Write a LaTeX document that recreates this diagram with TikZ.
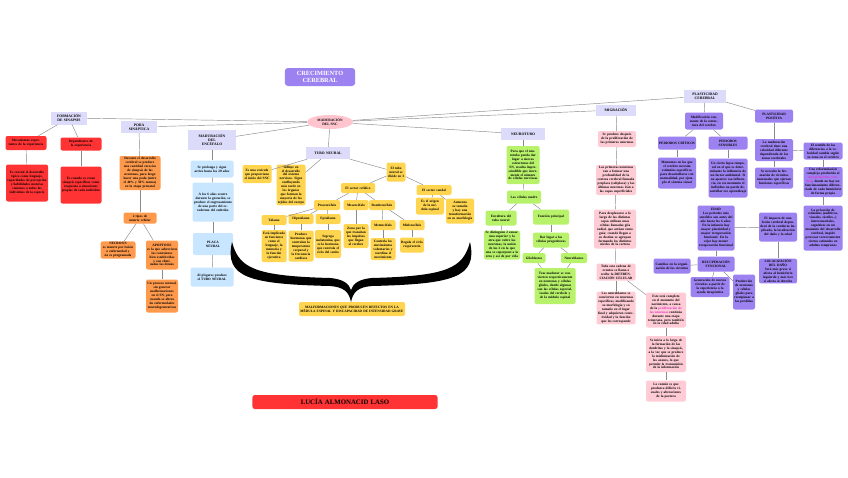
\documentclass[tikz,border=0pt]{standalone}
\usepackage{fontspec}
\setmainfont{Liberation Serif}
\usetikzlibrary{shapes.geometric}
\definecolor{cR}{HTML}{FF3333}
\definecolor{cO}{HTML}{FF9A4D}
\definecolor{cB}{HTML}{C8E6FF}
\definecolor{cY}{HTML}{FFD54F}
\definecolor{cG}{HTML}{B8F26A}
\definecolor{cP}{HTML}{FFCCD5}
\definecolor{cV}{HTML}{9C82F0}
\definecolor{cH}{HTML}{DCDCFA}
\definecolor{cE}{HTML}{FFC4CE}
\definecolor{cMag}{HTML}{E030C8}
\definecolor{cLn}{HTML}{8A8A8A}
\newcommand\mg[1]{\textcolor{cMag}{#1}}
\tikzset{
  base/.style={rounded corners=2pt, align=center, inner sep=1.1pt, font=\fontsize{3.4}{3.95}\selectfont\bfseries},
  rbox/.style={base, fill=cR},
  obox/.style={base, fill=cO},
  bbox/.style={base, fill=cB},
  ybox/.style={base, fill=cY},
  gbox/.style={base, fill=cG},
  pbox/.style={base, fill=cP},
  vbox/.style={base, fill=cV},
  headbox/.style={base, fill=cH, rounded corners=0pt, font=\fontsize{3.7}{4.4}\selectfont\bfseries},
  ln/.style={draw=cLn, line width=0.45pt}
}
\begin{document}
\begin{tikzpicture}[x=1pt,y=-1pt]
\useasboundingbox (0,0) rectangle (848,477);
\fill[white] (0,0) rectangle (848,477);

% title and centre
\node[base, fill=cV, rounded corners=3pt, text width=68, minimum height=18, font=\fontsize{6.3}{7.3}\selectfont\bfseries, text=white] (title) at (320,77) {CRECIMIENTO CEREBRAL};
\node[ellipse, fill=cE, minimum width=46, minimum height=14, inner sep=0pt, align=center, font=\fontsize{3.5}{4.1}\selectfont\bfseries] (mad) at (330,122) {MADURACIÓN\\DEL SNC};

% heads
\node[headbox, text width=34, minimum height=13] (form) at (69,118) {FORMACIÓN\\DE SINAPSIS};
\node[headbox, text width=34, minimum height=12] (poda) at (139,127) {PODA\\SINÁPTICA};
\node[headbox, text width=45, minimum height=20] (mence) at (212,140) {MADURACIÓN\\DEL\\ENCÉFALO};
\node[headbox, text width=41, minimum height=12] (tubo) at (328,153) {TUBO NEURAL};
\node[headbox, text width=41, minimum height=12] (neuro) at (523,134) {NEUROTUBO};
\node[headbox, text width=38, minimum height=11] (migr) at (616,110) {MIGRACIÓN};
\node[headbox, text width=40, minimum height=13] (plast) at (705,96) {PLASTICIDAD\\CEREBRAL};

% red
\node[rbox, text width=38.8, minimum height=14] (r1) at (26,143) {Mecanismos expectantes de la experiencia};
\node[rbox, text width=38.8, minimum height=13] (r2) at (81,144) {Dependientes de la experiencia};
\node[rbox, text width=39.8, minimum height=37] (r3) at (27,183) {Es crucial el desarrollo típico como lenguaje, capacidades de percepción y habilidades motoras comunes a todos los individuos de la especie};
\node[rbox, text width=38.8, minimum height=37] (r4) at (81,185) {Es cuando se crean sinapsis específicas como respuesta a situaciones propias de cada individuo};

% orange
\node[obox, text width=38.8, minimum height=34] (o1) at (140,173) {Durante el desarrollo cerebral se produce una cantidad excesiva de sinapsis de las neuronas, para luego hacer una poda (entre el 40\% y 50\% menos) en la etapa prenatal};
\node[obox, text width=30.8, minimum height=11] (o2) at (140,218) {2 tipos de muerte celular};
\node[obox, text width=32.8, minimum height=17] (o3) at (118,250) {NECROSIS\\es muerte por lesión o enfermedad y no es programada};
\node[obox, text width=29.8, minimum height=29] (o4) at (162,255) {APOPTOSIS\\es la que sobreviven las conexiones bien establecidas y son eliminadas las demás};
\node[obox, text width=29.8, minimum height=33] (o5) at (162,296) {Un proceso normal, sin generar malformaciones en el SN, pero cuando se altera da enfermedades neurodegenerativas};

% blue
\node[bbox, text width=40.8, minimum height=17] (b1) at (212,169) {Se prolonga y sigue activo hasta los 20 años};
\node[bbox, text width=38.8, minimum height=39] (b2) at (213,202) {A los 6 años ocurre durante la gestación, se produce el engrosamiento de una parte del ectodermo del embrión};
\node[bbox, text width=37.8, minimum height=22] (b3) at (213,244) {PLACA\\NEURAL};
\node[bbox, text width=40.8, minimum height=19] (b4) at (212,277) {Al plegarse produce el TUBO NEURAL};

% yellow
\node[ybox, text width=26.8, minimum height=18] (y1) at (257,174) {Es una vesícula que proporciona el inicio del SNC};
\node[ybox, text width=26.8, minimum height=40] (y2) at (291,185) {Influye en el desarrollo del sistema nervioso. Sigue confluyendo más tarde en los órganos que forman la mayoría de los tejidos del cuerpo};
\node[ybox, text width=16.8, minimum height=19] (y3) at (396,172) {El tubo neural se divide en 3};
\node[ybox, text width=31.8, minimum height=10] (y4) at (358,188) {El sector cefálico};
\node[ybox, text width=32.8, minimum height=10] (y5) at (434,190) {El sector caudal};
\node[ybox, text width=23.8, minimum height=10] (y6) at (327,205) {Prosencéfalo};
\node[ybox, text width=22.8, minimum height=10] (y7) at (356,205) {Mesencéfalo};
\node[ybox, text width=23.8, minimum height=10] (y8) at (382,205) {Rombencéfalo};
\node[ybox, text width=22.8, minimum height=10] (y9) at (274,220) {Tálamo};
\node[ybox, text width=22.8, minimum height=10] (y10) at (301,219) {Hipotálamo};
\node[ybox, text width=22.8, minimum height=10] (y11) at (328,219) {Epitálamo};
\node[ybox, text width=22.8, minimum height=32] (y12) at (274,246) {Está implicado en funciones como el lenguaje, la memoria y la función ejecutiva};
\node[ybox, text width=22.8, minimum height=31] (y13) at (301,246) {Produce hormonas que controlan la temperatura corporal y la frecuencia cardíaca};
\node[ybox, text width=23.8, minimum height=28] (y14) at (328,244) {Segrega melatonina, que es la hormona que controla el ciclo del sueño};
\node[ybox, text width=22.8, minimum height=24] (y15) at (356,236) {Zona por la que transitan los impulsos que llegan al cerebro};
\node[ybox, text width=22.8, minimum height=10] (y16) at (383,225) {Metencéfalo};
\node[ybox, text width=22.8, minimum height=10] (y17) at (412,225) {Mielencéfalo};
\node[ybox, text width=22.8, minimum height=22] (y18) at (383,249) {Controla los movimientos voluntarios y coordina el movimiento};
\node[ybox, text width=21.8, minimum height=15] (y19) at (412,245) {Regula el ciclo respiratorio};
\node[ybox, text width=25.8, minimum height=17] (y20) at (430,206) {Es el origen de la médula espinal};
\node[ybox, text width=25.8, minimum height=25] (y21) at (460,211) {Aumenta su tamaño y hay una transformación en su morfología};
\node[ybox, text width=103.8, minimum height=14] (y22) at (352,309) {MALFORMACIONES QUE PRODUCEN DEFECTOS EN LA MÉDULA ESPINAL Y DISCAPACIDAD DE INTENSIDAD GRAVE};

% brace
\fill[black] (232,242) .. controls (224,278) and (250,284) .. (330,286)
  .. controls (344,287) and (349,292) .. (351,302)
  .. controls (353,292) and (358,287) .. (372,286)
  .. controls (452,284) and (478,278) .. (470,242)
  .. controls (463,268) and (448,276) .. (372,278)
  .. controls (360,279) and (353,283) .. (351,290)
  .. controls (349,283) and (342,279) .. (330,278)
  .. controls (254,276) and (239,268) .. (232,242) -- cycle;

% green
\node[gbox, text width=30.8, minimum height=38] (g1) at (523,165) {Para que el neurotubo pueda dar lugar a nuevas estructuras del SN, resulta imprescindible que incremente el número de células nerviosas};
\node[gbox, text width=31.8, minimum height=13] (g2) at (524,197) {Las células madre};
\node[gbox, text width=28.8, minimum height=15] (g3) at (501,218) {Envoltura del tubo neural};
\node[gbox, text width=33.8, minimum height=15] (g4) at (551,217) {Función principal};
\node[gbox, text width=33.8, minimum height=27] (g5) at (502,245) {Se distinguen 2 zonas: una superior y la otra que cubre las neuronas, la unión de las 2 en la que una se superpone a la otra y así de por vida};
\node[gbox, text width=33.8, minimum height=15] (g6) at (551,240) {Dar lugar a las células progenitoras};
\node[gbox, text width=20.8, minimum height=10] (g7) at (534,258) {Glioblastos};
\node[gbox, text width=23.8, minimum height=10] (g8) at (574,258) {Neuroblastos};
\node[gbox, text width=38.8, minimum height=36] (g9) at (555,286) {Tras madurar se convierten respectivamente en neuronas y células gliales, donde algunas son las células especializadas del cerebelo y de la médula espinal};

% pink
\node[pbox, text width=35.8, minimum height=16] (p1) at (617,139) {Se produce después de la proliferación de las primeras neuronas};
\node[pbox, text width=37.8, minimum height=30] (p2) at (616,180) {Las primeras neuronas van a formar una profundidad de la corteza cerebral llamada preplaca (subplaca) y las últimas neuronas irán a las capas superficiales};
\node[pbox, text width=39.8, minimum height=39] (p3) at (615,229) {Para desplazarse a lo largo de las distintas capas utilizan unas células llamadas glía radial, que actúan como guía; cuando llegan a su destino se agrupan formando los distintos niveles de la corteza};
\node[pbox, text width=36.8, minimum height=17] (p4) at (616,272) {Toda esta cadena de eventos se llama o recibe la DIFERENCIACIÓN CELULAR};
\node[pbox, text width=36.8, minimum height=31] (p5) at (616,308) {Los neuroblastos se convierten en neuronas específicas, modificando su morfología y su tamaño en el lugar final y adquieren conectividad y la función que les corresponde};
\node[pbox, text width=37.8, minimum height=35] (p6) at (666,310) {Este está completo en el momento del nacimiento, a causa de la \mg{proliferación de las neuronas} continúa durante una etapa temprana, pero también en la edad adulta};
\node[pbox, text width=37.8, minimum height=36] (p7) at (666,354) {Se inicia a lo largo de la formación de las dendritas y la sinapsis, a la vez que se produce la mielinización de los axones, lo que permite la transmisión de la información};
\node[pbox, text width=37.8, minimum height=21] (p8) at (666,391) {Lo común es que produzca déficits visuales y alteraciones de la postura};

% purple
\node[vbox, text width=35.8, minimum height=17] (v1) at (704,121) {Modificación constante de la estructura del cerebro};
\node[vbox, text width=35.8, minimum height=13] (v2) at (774,116) {PLASTICIDAD POSITIVA};
\node[vbox, text width=35.8, minimum height=13] (v3) at (677,143) {PERIODOS CRÍTICOS};
\node[vbox, text width=36.8, minimum height=13] (v4) at (728,143) {PERIODOS SENSIBLES};
\node[vbox, text width=35.8, minimum height=31] (v5) at (677,173) {Momentos en los que el cerebro necesita estímulos específicos para desarrollarse con normalidad, por ejemplo el sistema visual};
\node[vbox, text width=36.8, minimum height=39] (v6) at (728,178) {Un cierto lapso temporal en el que es determinante la influencia de un factor ambiental. Si no aparece esa influencia, en ese momento el individuo no puede desarrollar ese aprendizaje};
\node[vbox, text width=35.8, minimum height=22] (v7) at (774,150) {La maduración cerebral tiene una velocidad diferente dependiendo de las zonas cerebrales};
\node[vbox, text width=36.8, minimum height=17] (v8) at (823,151) {El sentido de las diferencias a la velocidad cambia según su zona en el cerebro};
\node[vbox, text width=35.8, minimum height=21] (v9) at (774,178) {Se necesita la formación de circuitos neuronales que ejerzan funciones específicas};
\node[vbox, text width=36.8, minimum height=30] (v10) at (823,182) {Una reformulación compleja producida al \mg{envejecimiento cerebral}, donde no hay un funcionamiento diferenciado de cada hemisferio de forma propia};
\node[vbox, text width=36.8, minimum height=45] (v11) at (823,228) {La privación de estímulos (auditivos, visuales, táctiles...) intersensoriales, cognitivos en un momento del desarrollo cerebral, impide procesar correctamente ciertos estímulos en adultos tempranos};
\node[vbox, text width=34.8, minimum height=45] (v12) at (716,228) {EDAD\\Los periodos más sensibles son antes del año hasta los 6 años. En la infancia hay mayor plasticidad y mayor recuperación funcional. En la vejez hay menor recuperación funcional};
\node[vbox, text width=35.8, minimum height=29] (v13) at (778,227) {El impacto de una lesión cerebral dependerá de la conducta implicada, la localización del daño y la edad};
\node[vbox, text width=35.8, minimum height=24] (v14) at (778,271) {LOCALIZACIÓN DEL DAÑO\\Será más grave si afecta al hemisferio izquierdo y más leve si afecta al derecho};
\node[vbox, text width=34.8, minimum height=15] (v15) at (716,264) {RECUPERACIÓN FUNCIONAL};
\node[vbox, text width=34.8, minimum height=15] (v16) at (672,266) {Cambios en la organización de los circuitos};
\node[vbox, text width=36.8, minimum height=20] (v17) at (710,287) {Generación de nuevos circuitos a partir de la experiencia o la ayuda terapéutica};
\node[vbox, text width=19.8, minimum height=35] (v18) at (744,292) {Producción de neuronas y células gliales para reemplazar a las perdidas};

% author
\node[base, fill=cR, rounded corners=2.5pt, text width=183, minimum height=14, font=\fontsize{6.8}{7.8}\selectfont\bfseries] (author) at (345,402) {LUCÍA ALMONACID LASO};

% connectors
\foreach \t in {form,poda,mence,tubo,neuro,migr,plast} \draw[ln] (mad) -- (\t);
\draw[ln] (form) -- (r1); \draw[ln] (form) -- (r2);
\draw[ln] (r1) -- (r3); \draw[ln] (r2) -- (r4);
\draw[ln] (poda) -- (o1); \draw[ln] (o1) -- (o2);
\draw[ln] (o2) -- (o3); \draw[ln] (o2) -- (o4); \draw[ln] (o4) -- (o5);
\draw[ln] (mence) -- (b1); \draw[ln] (b1) -- (b2); \draw[ln] (b2) -- (b3); \draw[ln] (b3) -- (b4);
\draw[ln] (tubo) -- (y1); \draw[ln] (tubo) -- (y2); \draw[ln] (tubo) -- (y3);
\draw[ln] (y3) -- (y4); \draw[ln] (y3) -- (y5);
\draw[ln] (y4) -- (y6); \draw[ln] (y4) -- (y7); \draw[ln] (y4) -- (y8);
\draw[ln] (y6) -- (y9); \draw[ln] (y6) -- (y10); \draw[ln] (y6) -- (y11);
\draw[ln] (y9) -- (y12); \draw[ln] (y10) -- (y13); \draw[ln] (y11) -- (y14);
\draw[ln] (y7) -- (y15);
\draw[ln] (y8) -- (y16); \draw[ln] (y8) -- (y17);
\draw[ln] (y16) -- (y18); \draw[ln] (y17) -- (y19);
\draw[ln] (y5) -- (y20); \draw[ln] (y5) -- (y21);
\draw[ln] (neuro) -- (g1); \draw[ln] (g1) -- (g2);
\draw[ln] (g2) -- (g3); \draw[ln] (g2) -- (g4);
\draw[ln] (g3) -- (g5); \draw[ln] (g4) -- (g6);
\draw[ln] (g6) -- (g7); \draw[ln] (g6) -- (g8);
\draw[ln] (g7) -- (g9); \draw[ln] (g8) -- (g9);
\draw[ln] (migr) -- (p1); \draw[ln] (p1) -- (p2); \draw[ln] (p2) -- (p3);
\draw[ln] (p3) -- (p4); \draw[ln] (p4) -- (p5); \draw[ln] (p4) -- (p6);
\draw[ln] (p6) -- (p7); \draw[ln] (p7) -- (p8);
\draw[ln] (plast) -- (v1); \draw[ln] (plast) -- (v2);
\draw[ln] (v1) -- (v3); \draw[ln] (v1) -- (v4);
\draw[ln] (v3) -- (v5); \draw[ln] (v4) -- (v6);
\draw[ln] (v2) -- (v7); \draw[ln] (v7) -- (v9); \draw[ln] (v7) -- (v8);
\draw[ln] (v8) -- (v10); \draw[ln] (v10) -- (v11);
\draw[ln] (v12) -- (v13); \draw[ln] (v13) -- (v14);
\draw[ln] (v12) -- (v15); \draw[ln] (v15) -- (v16);
\draw[ln] (v15) -- (v17); \draw[ln] (v15) -- (v18);
\end{tikzpicture}
\end{document}
